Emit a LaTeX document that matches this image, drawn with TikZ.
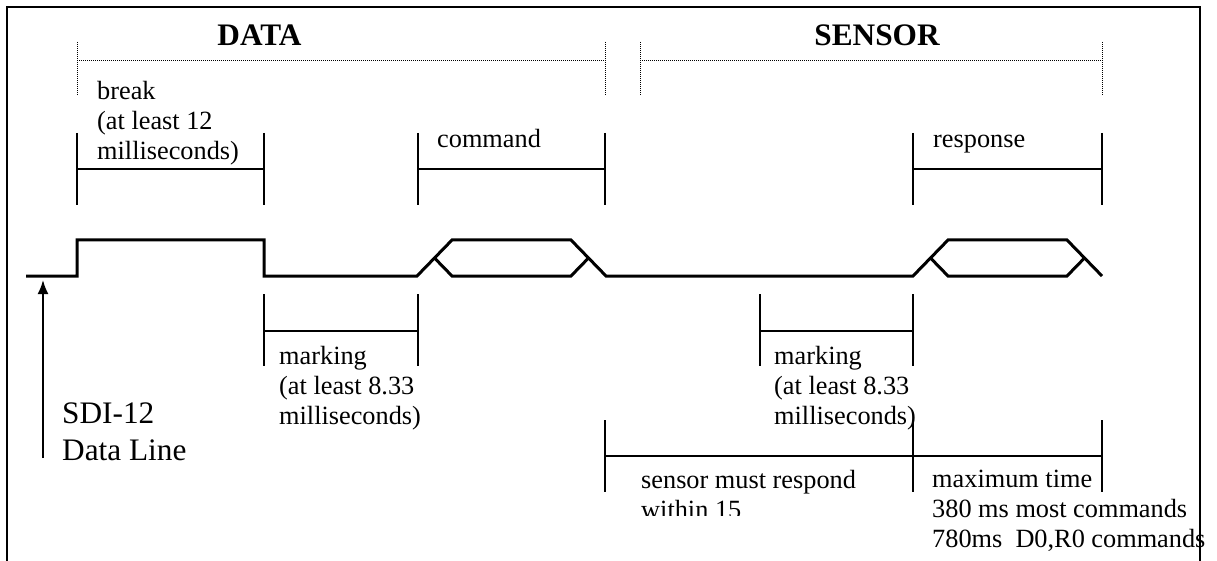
\documentclass[tikz,border=0pt]{standalone}
\usepackage{fontspec}
\setmainfont{Liberation Serif}
\usetikzlibrary{arrows.meta}
\begin{document}
\begin{tikzpicture}[x=1pt,y=-1pt,
  lbl/.style={anchor=base west,inner sep=0pt,align=left,font=\fontsize{26.3}{30}\selectfont},
  big/.style={anchor=base west,inner sep=0pt,align=left,font=\fontsize{31.3}{37}\selectfont},
  head/.style={anchor=base,inner sep=0pt,font=\fontsize{31.3}{37}\selectfont\bfseries},
  sig/.style={line width=3pt},
  tick/.style={line width=2pt},
  span/.style={line width=1pt,dash pattern=on 1pt off 1pt}]
\useasboundingbox (0,0) rectangle (1217,561);
\draw[line width=2.5pt] (7,561) -- (7,7) -- (1200,7) -- (1200,561);
% DATA / SENSOR spans
\node[head] (data) at (259.5,46) {DATA};
\node[head] (sensor) at (877,46) {SENSOR};
\draw[span] (77,42) -- (77,95) (77,61) -- (605,61) (605,42) -- (605,95);
\draw[span] (640,42) -- (640,95) (640,61) -- (1102,61) (1102,42) -- (1102,95);
% brackets above the line (base of a node = its last line)
\foreach \a/\b in {77/264, 418/605, 913/1102}
  \draw[tick] (\a,133) -- (\a,205) (\a,169) -- (\b,169) (\b,133) -- (\b,205);
\node[lbl] (brk) at (97,160) {break\\(at least 12\\milliseconds)};
\node[lbl] (cmd) at (437,148) {command};
\node[lbl] (resp) at (933,148) {response};
% the signal
\draw[sig] (26,276) -- (77,276) -- (77,240) -- (264,240) -- (264,276) -- (417,276)
  -- (452,240) -- (571,240) -- (606,276) -- (913,276) -- (948,240) -- (1067,240) -- (1102,276);
\draw[sig] (434.5,258) -- (452,276) -- (571,276) -- (588.5,258);
\draw[sig] (930.5,258) -- (948,276) -- (1067,276) -- (1084.5,258);
\draw[line width=2pt,-{Latex[length=14pt,width=11pt]}] (43,458) -- (43,280);
\node[big] (sdi) at (62,460) {SDI-12\\Data Line};
% brackets below the line
\foreach \a/\b in {264/418, 760/913}
  \draw[tick] (\a,294) -- (\a,366) (\a,331) -- (\b,331) (\b,294) -- (\b,366);
\node[lbl] (mark1) at (279,424) {marking\\(at least 8.33\\milliseconds)};
\node[lbl] (mark2) at (774,424) {marking\\(at least 8.33\\milliseconds)};
\foreach \a/\b in {605/913, 913/1102}
  \draw[tick] (\a,420) -- (\a,492) (\a,456) -- (\b,456) (\b,420) -- (\b,492);
\begin{scope}
  \clip (610,460) rectangle (905,515);
  \node[lbl] (within) at (641,518) {sensor must respond\\within 15};
\end{scope}
\node[lbl] (maxtime) at (932,547) {maximum time\\380 ms most commands\\780ms\ \ D0,R0 commands};
\end{tikzpicture}
\end{document}
